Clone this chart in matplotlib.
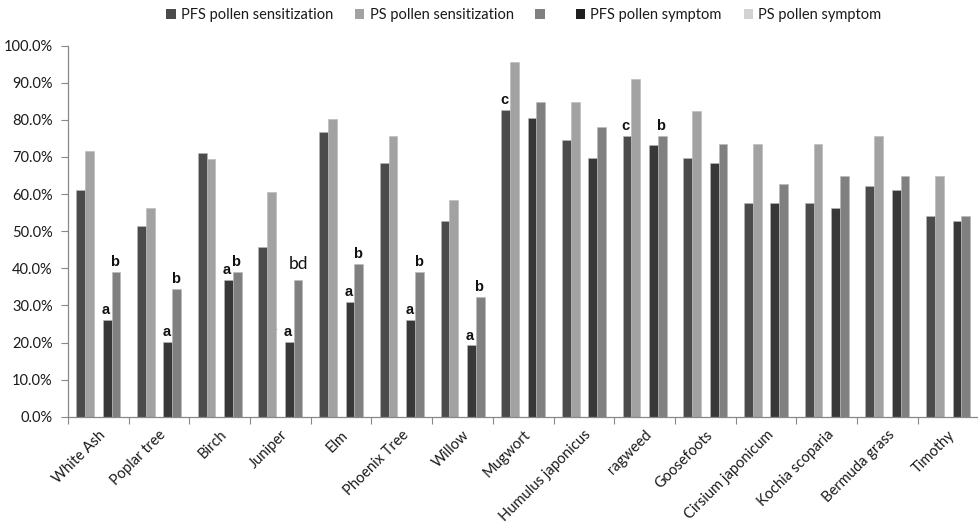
import matplotlib
matplotlib.use("Agg")
import matplotlib.pyplot as plt
from matplotlib.patches import Patch
from matplotlib.ticker import FuncFormatter, FixedLocator, NullFormatter
import numpy as np

plt.rcParams['font.family'] = ['Lato', 'DejaVu Sans']
plt.rcParams['text.color'] = '#1a1a1a'

categories = ["White Ash", "Poplar tree", "Birch", "Juniper", "Elm", "Phoenix Tree",
              "Willow", "Mugwort", "Humulus japonicus", "ragweed", "Goosefoots",
              "Cirsium japonicum", "Kochia scoparia", "Bermuda grass", "Timothy"]

pfs_sensitization = [61.0, 51.5, 71.0, 45.7, 76.8, 68.4, 52.7, 82.7, 74.5, 75.7, 69.7, 57.5, 57.5, 62.3, 54.0]
ps_sensitization = [71.6, 56.3, 69.4, 60.7, 80.2, 75.7, 58.5, 95.6, 84.7, 91.1, 82.5, 73.6, 73.6, 75.7, 64.9]
pfs_symptom = [26.1, 20.1, 36.8, 20.1, 31.0, 26.1, 19.2, 80.6, 69.7, 73.1, 68.5, 57.5, 56.3, 61.0, 52.7]
ps_symptom = [39.1, 34.5, 39.1, 36.8, 41.2, 39.0, 32.3, 84.7, 78.0, 75.7, 73.5, 62.6, 64.9, 64.9, 54.0]

legend_labels = ["PFS pollen sensitization", "PS pollen sensitization", " ",
                 "PFS pollen symptom", "PS pollen symptom"]

# significance letters: (category index, series index, letter)
sig_letters = [
    (0, 2, "a"), (0, 3, "b"),
    (1, 2, "a"), (1, 3, "b"),
    (2, 2, "a"), (2, 3, "b"),
    (3, 2, "a"),
    (4, 2, "a"), (4, 3, "b"),
    (5, 2, "a"), (5, 3, "b"),
    (6, 2, "a"), (6, 3, "b"),
    (7, 0, "c"),
    (9, 0, "c"), (9, 3, "b"),
]

bar_colors = ["#4b4b4b", "#a2a2a2", "#383838", "#808080"]
legend_colors = ["#4b4b4b", "#a2a2a2", "#808080", "#1e1e1e", "#d2d2d2"]

fig = plt.figure(figsize=(9.79, 5.30), dpi=100)
ax = fig.add_axes([68 / 979, 113.3 / 530, (978.5 - 68) / 979, 371 / 530])

x = np.arange(len(categories))
slot = 0.145
offsets = [-2 * slot, -1 * slot, 1 * slot, 2 * slot]
series = [pfs_sensitization, ps_sensitization, pfs_symptom, ps_symptom]

for vals, off, col in zip(series, offsets, bar_colors):
    ax.bar(x + off, vals, width=slot, color=col, edgecolor="#b8b8b8",
           linewidth=0.4, zorder=2)

for ci, si, letter in sig_letters:
    val = series[si][ci]
    ax.annotate(letter, (x[ci] + offsets[si], val), xytext=(-1, 2),
                textcoords="offset points", ha="center", va="bottom",
                fontsize=10.5, fontweight="bold", family="Liberation Sans",
                color="#111111")

# Juniper symptom label in a different style
ax.annotate("bd", (x[3] + offsets[3], ps_symptom[3]), xytext=(0, 6),
            textcoords="offset points", ha="center", va="bottom",
            fontsize=12.5, color="#111111")
ax.annotate(".", (x[3] + offsets[2], pfs_symptom[3]), xytext=(-9, 7),
            textcoords="offset points", ha="center", va="bottom",
            fontsize=7, color="#999999")

ax.set_xlim(-0.5, len(categories) - 0.5)
ax.set_ylim(0, 100)

ax.yaxis.set_major_locator(FixedLocator(np.arange(0, 101, 10)))
ax.yaxis.set_major_formatter(FuncFormatter(lambda v, p: f"{v:.1f}%"))

ax.xaxis.set_major_locator(FixedLocator(np.arange(-0.5, len(categories), 1.0)))
ax.xaxis.set_major_formatter(NullFormatter())
ax.set_xticks(x, minor=True)
ax.set_xticklabels(categories, minor=True, rotation=45, ha="right",
                   rotation_mode="anchor", fontsize=10.5, color="#1a1a1a")
ax.tick_params(axis="x", which="minor", length=0, pad=8)
ax.tick_params(axis="x", which="major", length=5, color="#888888", width=0.8)
ax.tick_params(axis="y", length=5, color="#888888", width=0.8, labelsize=10.5,
               pad=6, labelcolor="#1a1a1a")

for s in ["top", "right"]:
    ax.spines[s].set_visible(False)
for s in ["left", "bottom"]:
    ax.spines[s].set_color("#888888")
    ax.spines[s].set_linewidth(0.9)

handles = [Patch(facecolor=c, edgecolor="none") for c in legend_colors]
fig.legend(handles, legend_labels, loc="center", bbox_to_anchor=(0.535, 0.972),
           ncol=5, frameon=False, fontsize=10.5, handlelength=0.65,
           handleheight=0.65, handletextpad=0.35, columnspacing=1.5)

fig.savefig("out.png", dpi=100, facecolor="white")
